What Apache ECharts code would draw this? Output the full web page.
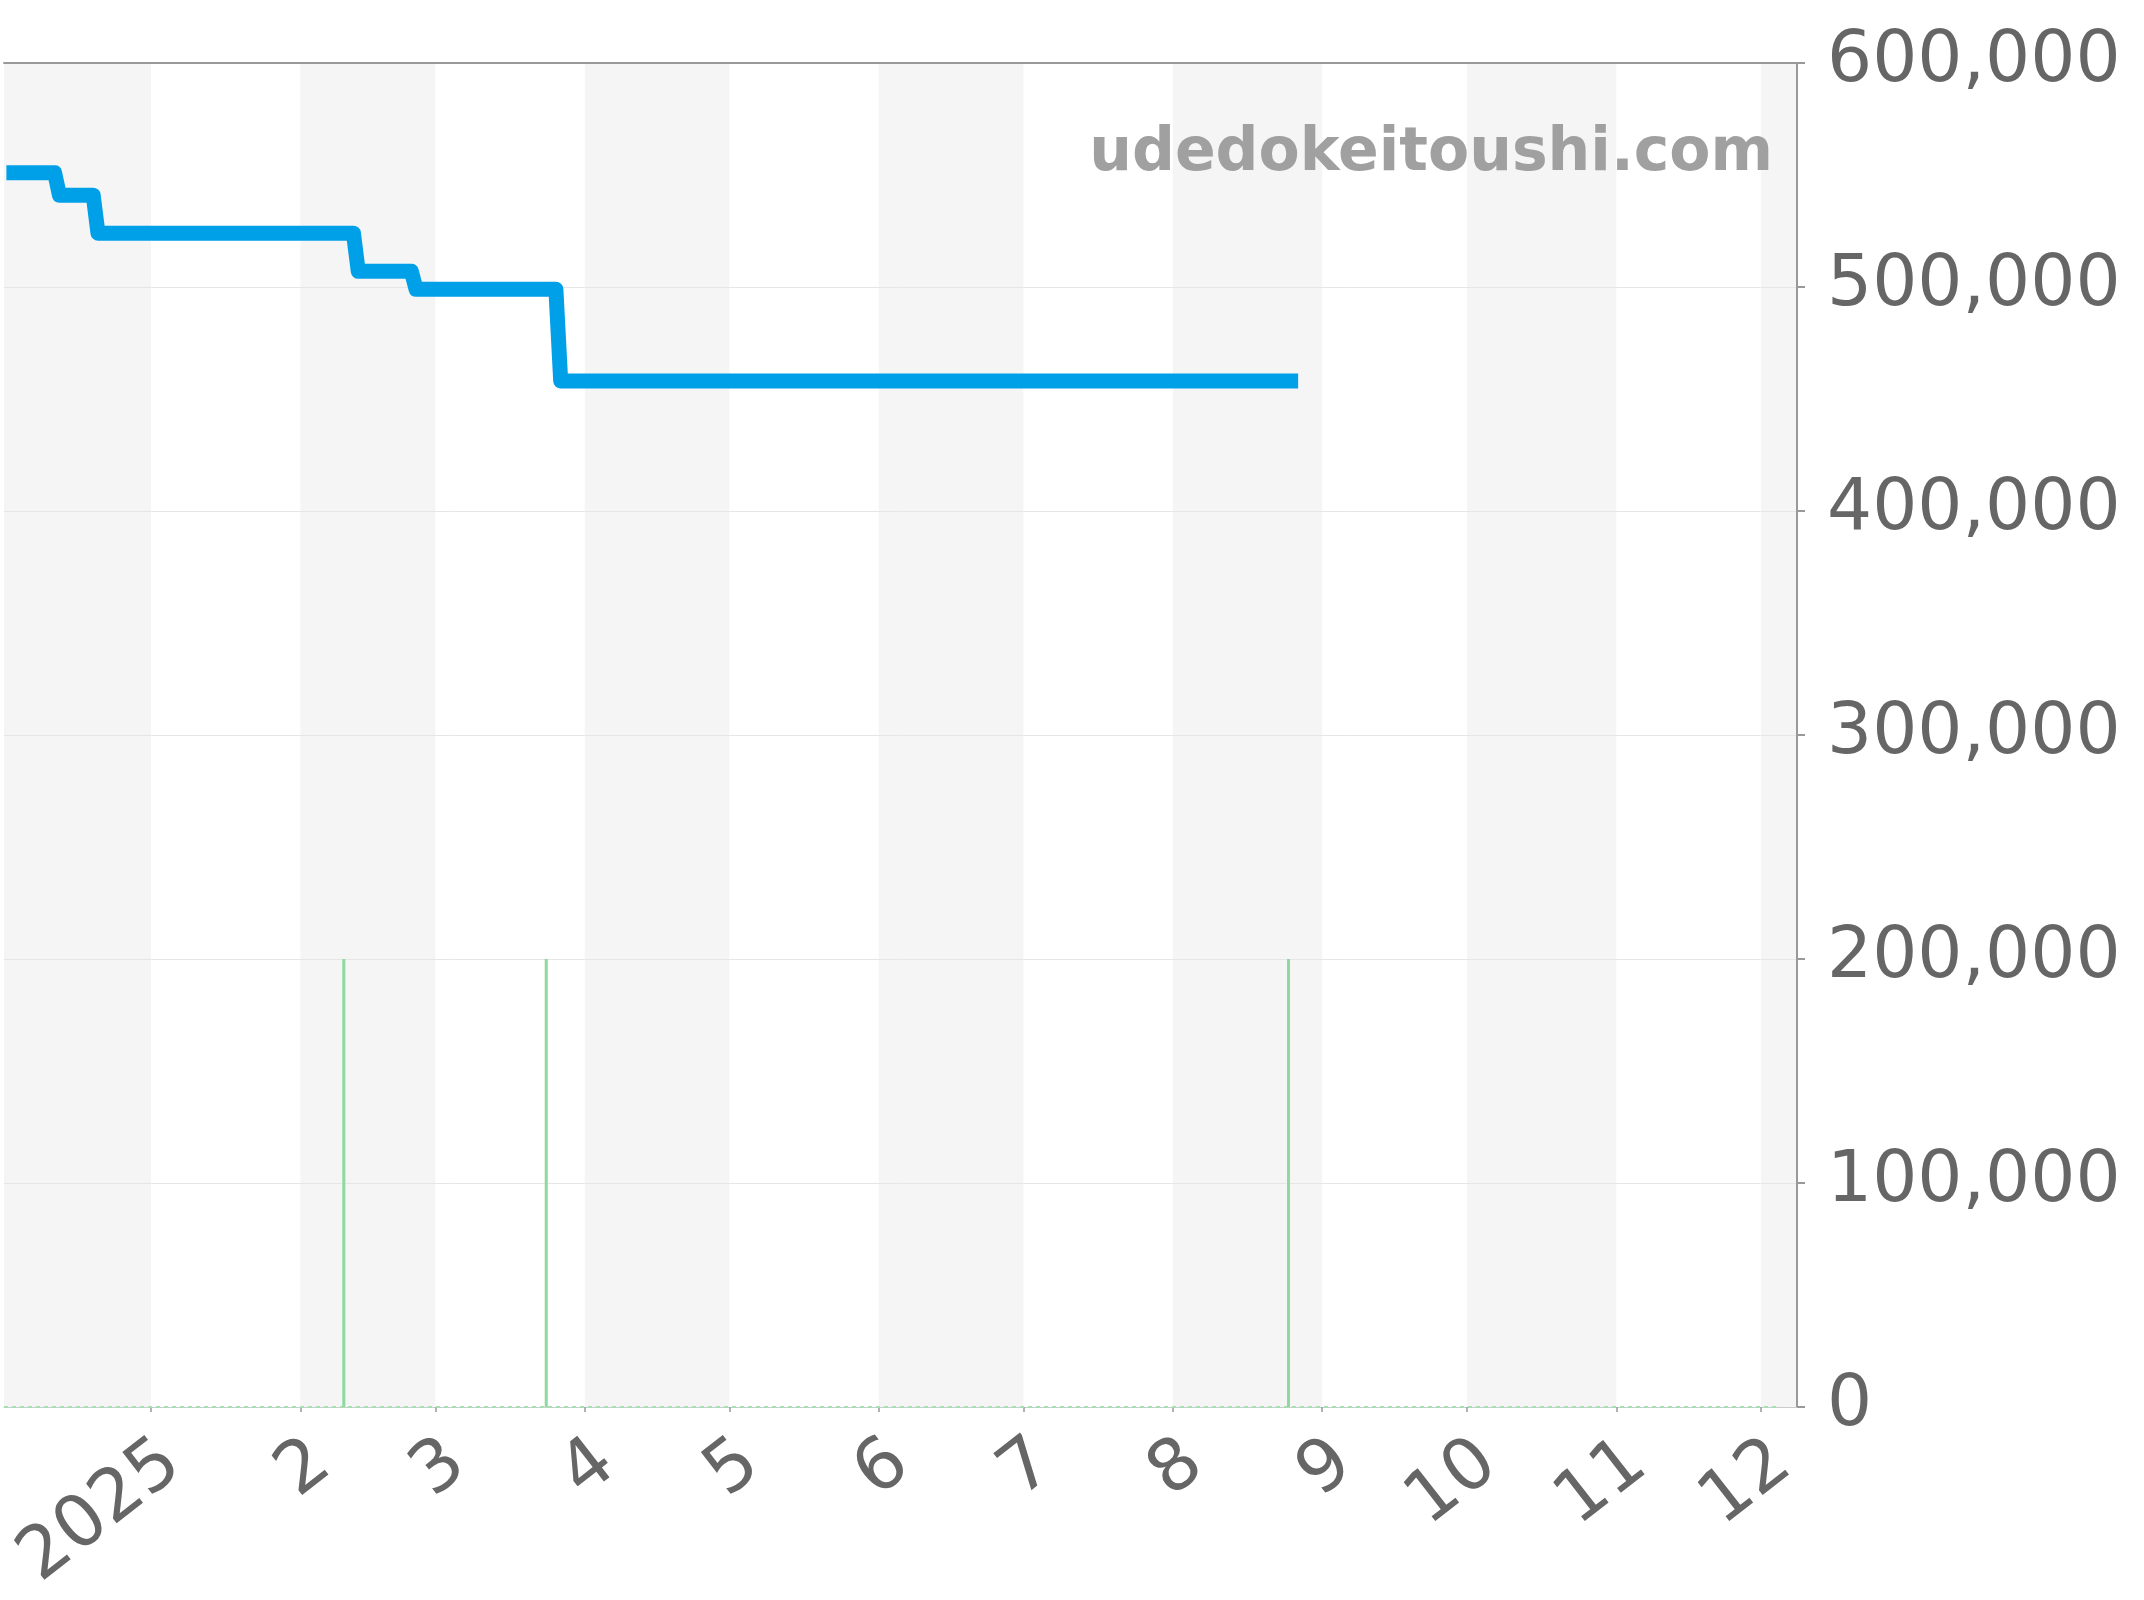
<!DOCTYPE html>
<html>
<head>
<meta charset="utf-8">
<script src="https://cdn.jsdelivr.net/npm/echarts@6/dist/echarts.min.js"></script>
<style>
  html, body { margin: 0; padding: 0; background: #ffffff; }
  #chart { width: 2144px; height: 1600px; }
</style>
</head>
<body>
<div id="chart"></div>
<script>
// ---- data ----
const priceDates  = ['2024-12-02','2024-12-12','2024-12-13','2024-12-20','2024-12-21','2025-02-12','2025-02-13','2025-02-24','2025-02-25','2025-03-26','2025-03-27','2025-08-27'];
const priceValues = [551000, 551000, 541000, 541000, 524000, 524000, 507000, 507000, 499000, 499000, 458000, 458000];

const eventDates  = ['2025-02-10', '2025-03-24', '2025-08-25'];
const eventValues = [200000, 200000, 200000];

const baseDates   = ['2024-12-01 12:00', '2025-12-05'];
const baseValues  = [0, 0];

const tickDates   = ['2025-01-01','2025-02-01','2025-03-01','2025-04-01','2025-05-01','2025-06-01','2025-07-01','2025-08-01','2025-09-01','2025-10-01','2025-11-01','2025-12-01'];
const tickLabels  = ['2025','2','3','4','5','6','7','8','9','10','11','12'];

const stripeStarts = ['2024-12-01 12:00','2025-02-01','2025-04-01','2025-06-01','2025-08-01','2025-10-01','2025-12-01'];
const stripeEnds   = ['2025-01-01','2025-03-01','2025-05-01','2025-07-01','2025-09-01','2025-11-01','2025-12-08 12:00'];

const xMin = '2024-12-01 12:00';
const xMax = '2025-12-08 12:00';

const yMin = 0, yMax = 600000, yStep = 100000;
const watermark = 'udedokeitoushi.com';

// ---- helpers ----
function ts(s) {
  const [d, t] = s.split(' ');
  const [y, m, dd] = d.split('-').map(Number);
  let h = 0, mi = 0;
  if (t) { [h, mi] = t.split(':').map(Number); }
  return new Date(y, m - 1, dd, h, mi).getTime();
}
const tickTs = tickDates.map(ts);

const FONT = 'DejaVu Sans';
const chart = echarts.init(document.getElementById('chart'), null, { renderer: 'canvas' });

const option = {
  animation: false,
  backgroundColor: '#ffffff',
  grid: { left: 4, right: 347, top: 63, bottom: 193, containLabel: false },
  xAxis: [
    {
      type: 'value',
      min: ts(xMin), max: ts(xMax),
      position: 'bottom',
      axisLine: { show: true, onZero: false, lineStyle: { color: '#cccccc', width: 1 } },
      axisTick: { show: true, customValues: tickTs, length: 5, lineStyle: { color: '#999999', width: 1.5 } },
      splitLine: { show: false },
      axisLabel: {
        show: true,
        customValues: tickTs,
        rotate: 38,
        margin: 20,
        align: 'right',
        verticalAlign: 'top',
        color: '#666666',
        fontFamily: FONT,
        fontSize: 72,
        formatter: function (v) {
          const i = tickTs.indexOf(v);
          return i >= 0 ? tickLabels[i] : '';
        }
      }
    },
    {
      type: 'value',
      min: ts(xMin), max: ts(xMax),
      position: 'top',
      axisLine: { show: true, onZero: false, lineStyle: { color: '#999999', width: 2 } },
      axisTick: { show: false },
      axisLabel: { show: false },
      splitLine: { show: false }
    }
  ],
  yAxis: {
    type: 'value',
    position: 'right',
    min: yMin, max: yMax, interval: yStep,
    axisLine: { show: true, lineStyle: { color: '#999999', width: 2 } },
    axisTick: { show: true, length: 8, lineStyle: { color: '#999999', width: 2 } },
    splitLine: { show: true, lineStyle: { color: '#e6e6e6', width: 1 } },
    axisLabel: { color: '#666666', fontFamily: FONT, fontSize: 71, margin: 30, padding: [10, 0, 0, 0] }
  },
  graphic: [
    {
      type: 'text',
      x: 1773, y: 154,
      z: 50,
      style: {
        text: watermark,
        fill: '#a0a0a0',
        font: 'bold 60px "DejaVu Sans"',
        align: 'right',
        verticalAlign: 'middle'
      }
    }
  ],
  series: [
    {
      name: 'stripes',
      type: 'line',
      z: -1,
      data: [],
      silent: true,
      markArea: {
        silent: true,
        z: -1,
        itemStyle: { color: '#f5f5f5' },
        data: stripeStarts.map((s, i) => [{ xAxis: ts(s) }, { xAxis: ts(stripeEnds[i]) }])
      }
    },
    {
      name: 'base',
      type: 'line',
      z: 2,
      showSymbol: false,
      symbol: 'none',
      data: baseDates.map((d, i) => [ts(d), baseValues[i]]),
      lineStyle: { color: '#a6dfb2', width: 2, type: [4, 4] }
    },
    {
      name: 'events',
      type: 'bar',
      z: 3,
      barWidth: 3,
      data: eventDates.map((d, i) => [ts(d), eventValues[i]]),
      itemStyle: { color: '#8fd89f' }
    },
    {
      name: 'price',
      type: 'line',
      z: 4,
      showSymbol: false,
      symbol: 'none',
      data: priceDates.map((d, i) => [ts(d), priceValues[i]]),
      lineStyle: { color: '#00a0e9', width: 15, join: 'round', cap: 'butt' }
    }
  ]
};
chart.setOption(option);
</script>
</body>
</html>
